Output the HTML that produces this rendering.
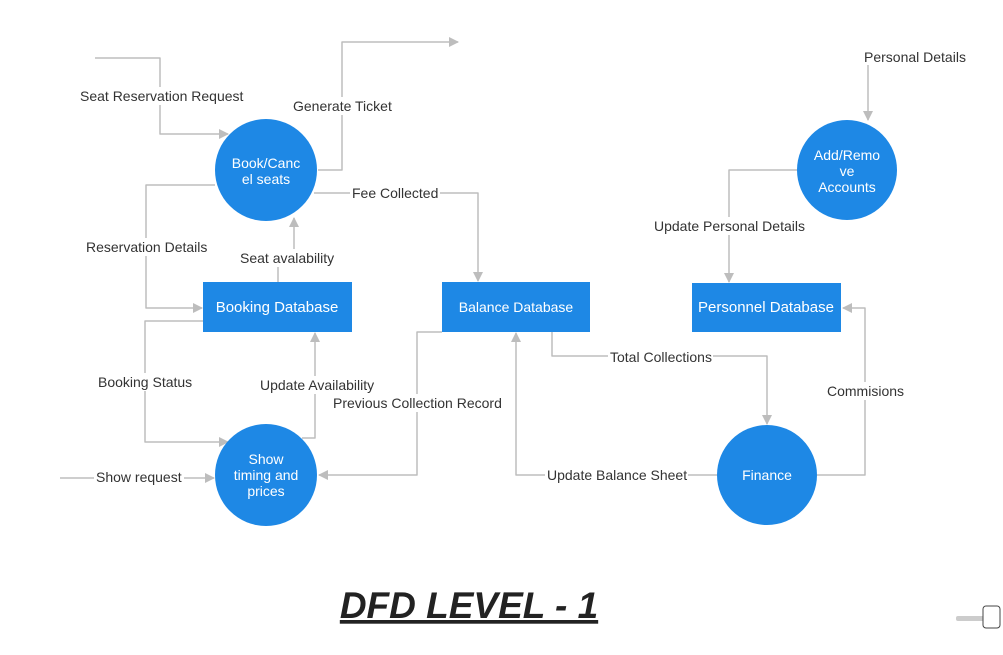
<!DOCTYPE html>
<html><head><meta charset="utf-8"><style>
body{margin:0;background:#fff;width:1003px;height:655px;overflow:hidden}
svg{display:block}
.l{fill:none;stroke:#bdbdbd;stroke-width:1.5;stroke-linejoin:round}
.t{font-family:"Liberation Sans",sans-serif;font-size:14px;fill:#333}
.w{font-family:"Liberation Sans",sans-serif;font-size:14px;fill:#fff;text-anchor:middle}
.bg{fill:#fff}
</style></head><body>
<svg width="1003" height="655" viewBox="0 0 1003 655">
<defs><marker id="a" markerWidth="10" markerHeight="10" refX="9" refY="5" orient="auto" markerUnits="userSpaceOnUse"><path d="M0,0 L10,5 L0,10 z" fill="#bdbdbd"/></marker></defs>
<path class="l" d="M95,58 H160 V134 H228" marker-end="url(#a)"/>
<path class="l" d="M318,170 H342 V42 H458" marker-end="url(#a)"/>
<path class="l" d="M314,193 H478 V281" marker-end="url(#a)"/>
<path class="l" d="M215,185 H146 V308 H202" marker-end="url(#a)"/>
<path class="l" d="M278,282 V258 H294 V218" marker-end="url(#a)"/>
<path class="l" d="M203,321 H145 V442 H228" marker-end="url(#a)"/>
<path class="l" d="M302,438 H315 V333" marker-end="url(#a)"/>
<path class="l" d="M442,332 H417 V475 H319" marker-end="url(#a)"/>
<path class="l" d="M60,478 H214" marker-end="url(#a)"/>
<path class="l" d="M552,332 V356 H767 V424" marker-end="url(#a)"/>
<path class="l" d="M717,475 H516 V333" marker-end="url(#a)"/>
<path class="l" d="M817,475 H865 V308 H843" marker-end="url(#a)"/>
<path class="l" d="M868,65 V120" marker-end="url(#a)"/>
<path class="l" d="M797,170 H729 V282" marker-end="url(#a)"/>
<rect class="bg" x="78" y="87" width="168" height="18"/><text class="t" x="80" y="101">Seat Reservation Request</text>
<rect class="bg" x="291" y="97" width="104" height="18"/><text class="t" x="293" y="111">Generate Ticket</text>
<rect class="bg" x="350" y="184" width="90" height="18"/><text class="t" x="352" y="198">Fee Collected</text>
<rect class="bg" x="84" y="238" width="124" height="18"/><text class="t" x="86" y="252">Reservation Details</text>
<rect class="bg" x="238" y="249" width="96" height="18"/><text class="t" x="240" y="263">Seat avalability</text>
<rect class="bg" x="96" y="373" width="98" height="18"/><text class="t" x="98" y="387">Booking Status</text>
<rect class="bg" x="258" y="376" width="116" height="18"/><text class="t" x="260" y="390">Update Availability</text>
<rect class="bg" x="331" y="394" width="172" height="18"/><text class="t" x="333" y="408">Previous Collection Record</text>
<rect class="bg" x="94" y="468" width="90" height="18"/><text class="t" x="96" y="482">Show request</text>
<rect class="bg" x="608" y="348" width="105" height="18"/><text class="t" x="610" y="362">Total Collections</text>
<rect class="bg" x="545" y="466" width="143" height="18"/><text class="t" x="547" y="480">Update Balance Sheet</text>
<rect class="bg" x="825" y="382" width="80" height="18"/><text class="t" x="827" y="396">Commisions</text>
<text class="t" x="864" y="62">Personal Details</text>
<rect class="bg" x="652" y="217" width="154" height="18"/><text class="t" x="654" y="231">Update Personal Details</text>
<circle cx="266" cy="170" r="51" fill="#1e88e5"/>
<text class="w" x="266" y="168">Book/Canc</text><text class="w" x="266" y="184">el seats</text>
<circle cx="266" cy="475" r="51" fill="#1e88e5"/>
<text class="w" x="266" y="464">Show</text><text class="w" x="266" y="480">timing and</text><text class="w" x="266" y="496">prices</text>
<circle cx="847" cy="170" r="50" fill="#1e88e5"/>
<text class="w" x="847" y="160">Add/Remo</text><text class="w" x="847" y="176">ve</text><text class="w" x="847" y="192">Accounts</text>
<circle cx="767" cy="475" r="50" fill="#1e88e5"/>
<text class="w" x="767" y="480">Finance</text>
<rect x="203" y="282" width="149" height="50" fill="#1e88e5"/>
<text class="w" x="277" y="312" style="font-size:15px">Booking Database</text>
<rect x="442" y="282" width="148" height="50" fill="#1e88e5"/>
<text class="w" x="516" y="312">Balance Database</text>
<rect x="692" y="283" width="149" height="49" fill="#1e88e5"/>
<text class="w" x="766" y="312" style="font-size:15px">Personnel Database</text>
<text x="469" y="618" text-anchor="middle" style="font-family:'Liberation Sans',sans-serif;font-size:37px;font-weight:bold;font-style:italic;fill:#222;text-decoration:underline">DFD LEVEL - 1</text>
<rect x="956" y="616" width="30" height="5" rx="2" fill="#ccc"/>
<rect x="983" y="606" width="17" height="22" rx="3" fill="#fff" stroke="#444" stroke-width="1"/>
</svg>
</body></html>
